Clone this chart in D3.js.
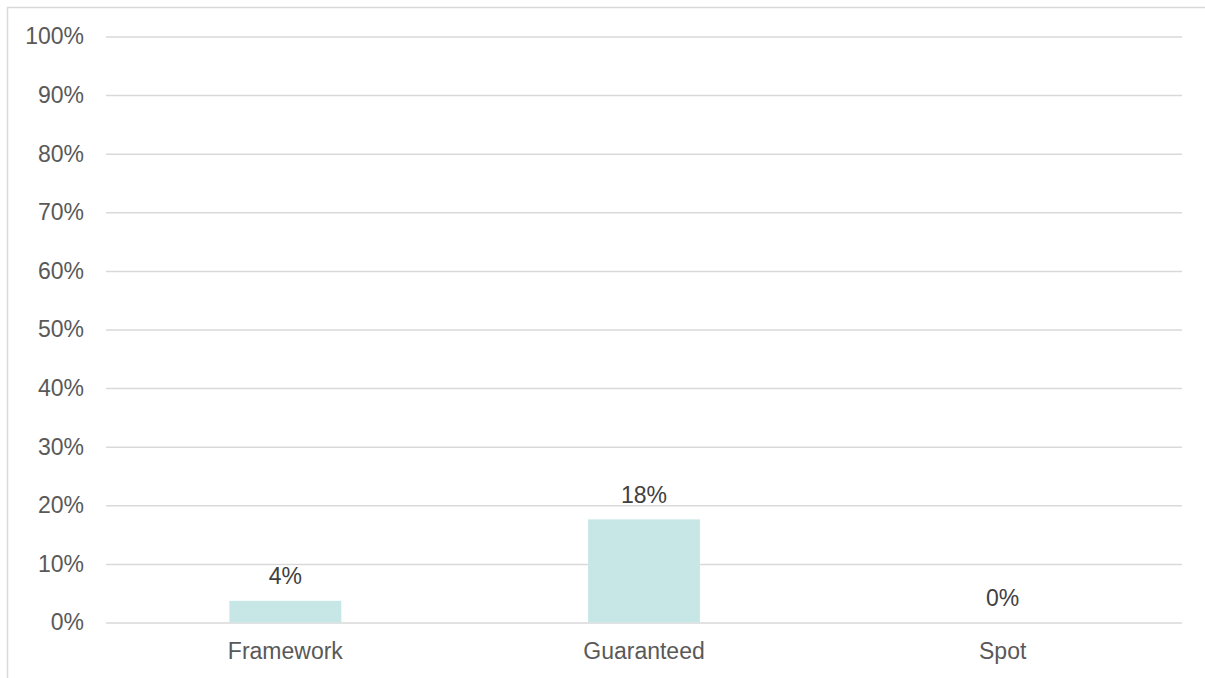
<!DOCTYPE html>
<html>
<head>
<meta charset="utf-8">
<script src="https://cdn.jsdelivr.net/npm/d3@7"></script>
<style>
  html, body { margin: 0; padding: 0; background: #fff; }
  svg { display: block; }
  text { font-family: "Liberation Sans", Arial, sans-serif; }
</style>
</head>
<body>
<svg id="chart" width="1205" height="678"></svg>
<script>
// Contract type shares
const categories = ["Framework", "Guaranteed", "Spot"];
const shares = [0.037, 0.176, 0];
const yTicks = [0, 0.1, 0.2, 0.3, 0.4, 0.5, 0.6, 0.7, 0.8, 0.9, 1.0];

const W = 1205, H = 678;
const margin = { top: 36.5, right: 23, bottom: 55.5, left: 106 };
const fontSize = "23px";
const svg = d3.select("#chart");

// Outer frame (top and left edges)
svg.append("path")
  .attr("d", `M7.5,${H} L7.5,7.5 L${W},7.5`)
  .attr("fill", "none")
  .attr("stroke", "#d9d9d9")
  .attr("stroke-width", 1.5);

const x = d3.scaleBand()
  .domain(categories)
  .range([margin.left, W - margin.right])
  .paddingInner(0.688)
  .paddingOuter(0.344);

const y = d3.scaleLinear()
  .domain([0, 1])
  .range([H - margin.bottom, margin.top]);

const fmt = d3.format(".0%");

// Gridlines + y labels
const yAxis = d3.axisLeft(y)
  .tickValues(yTicks)
  .tickFormat(fmt)
  .tickSize(-(W - margin.right - margin.left))
  .tickPadding(22);

const gy = svg.append("g")
  .attr("transform", `translate(${margin.left},0)`)
  .call(yAxis);
gy.select(".domain").remove();
gy.selectAll(".tick line")
  .attr("stroke", "#d9d9d9")
  .attr("stroke-width", 1.5);
gy.selectAll(".tick text")
  .attr("fill", "#595959")
  .style("font-size", fontSize);

// Bars
svg.append("g")
  .selectAll("rect")
  .data(categories)
  .join("rect")
  .attr("x", d => x(d))
  .attr("width", x.bandwidth())
  .attr("y", (d, i) => y(shares[i]))
  .attr("height", (d, i) => y(0) - y(shares[i]))
  .attr("fill", "#c7e7e7");

// Value labels
svg.append("g")
  .selectAll("text")
  .data(categories)
  .join("text")
  .attr("x", d => x(d) + x.bandwidth() / 2)
  .attr("y", (d, i) => y(shares[i]) - 16.5)
  .attr("text-anchor", "middle")
  .attr("fill", "#404040")
  .style("font-size", fontSize)
  .text((d, i) => fmt(shares[i]));

// Category axis labels
const xAxis = d3.axisBottom(x).tickSize(0).tickPadding(20.5);
const gx = svg.append("g")
  .attr("transform", `translate(0,${y(0)})`)
  .call(xAxis);
gx.select(".domain").remove();
gx.selectAll(".tick text")
  .attr("fill", "#595959")
  .style("font-size", fontSize);
</script>
</body>
</html>
